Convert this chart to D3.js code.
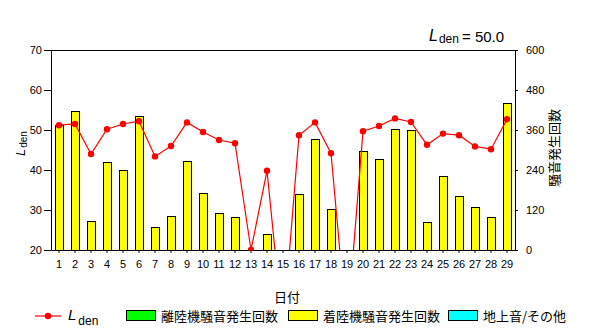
<!DOCTYPE html>
<html><head><meta charset="utf-8">
<script src="https://cdn.jsdelivr.net/npm/d3@7"></script>
<style>
body{margin:0;background:#fff;}
svg{display:block;}
text{font-family:"Liberation Sans",Arial,sans-serif;}
.jp{font-family:"Noto Sans CJK JP","Noto Sans",sans-serif;}
</style></head><body>
<svg id="c" width="600" height="329"></svg>
<script>
const days = d3.range(1, 30).map(String);
const landing = [375,417,86,264,240,402,69,101,267,170,110,99,0,47,0,167,332,123,0,296,272,362,359,83,221,161,128,98,440];
const takeoff = new Array(29).fill(0);
const other = new Array(29).fill(0);
const lden = [51.2,51.5,44.0,50.2,51.5,52.2,43.4,46.0,51.9,49.5,47.5,46.7,20.0,39.8,0,48.7,51.9,44.2,0,49.7,51.0,52.9,52.0,46.3,49.1,48.7,45.9,45.2,52.7];
const leftTicks = [20,30,40,50,60,70];
const rightTicks = [0,120,240,360,480,600];
const ldenAvg = "50.0";
const legendItems = [
  {label:"離陸機騒音発生回数", color:"#00ff00"},
  {label:"着陸機騒音発生回数", color:"#ffff00"},
  {label:"地上音/その他", color:"#00ffff"}
];

const L = 51, R = 515, T = 50, B = 250;
const svg = d3.select("#c");
const x = d3.scaleBand().domain(days).range([L, R]).paddingInner(0.5).paddingOuter(0.25);
const yL = d3.scaleLinear().domain([20,70]).range([B, T]);
const yR = d3.scaleLinear().domain([0,600]).range([B, T]);

svg.append("defs").append("clipPath").attr("id","clip")
  .append("rect").attr("x", L).attr("y", T - 6).attr("width", R - L).attr("height", B - T + 6.6);

// bars (stacked: takeoff, landing, other)
const stacks = days.map((d,i)=>({d, t:takeoff[i], l:landing[i], o:other[i]}));
const series = [
  {key:"t", color:"#00ff00"},
  {key:"l", color:"#ffff00"},
  {key:"o", color:"#00ffff"}
];
stacks.forEach(s=>{
  let base = 0;
  series.forEach(se=>{
    const v = s[se.key];
    if (v > 0) {
      svg.append("rect")
        .attr("x", Math.round(x(s.d)) + 0.5)
        .attr("y", Math.round(yR(base + v)) + 0.5)
        .attr("width", x.bandwidth())
        .attr("height", Math.round(yR(base)) - Math.round(yR(base + v)))
        .attr("fill", se.color).attr("stroke", "#000").attr("stroke-width", 1);
    }
    base += v;
  });
});

// axes
const axL = svg.append("g").attr("transform", `translate(${L},0)`)
  .call(d3.axisLeft(yL).tickValues(leftTicks).tickSize(7).tickSizeOuter(0).tickPadding(2));
const axR = svg.append("g").attr("transform", `translate(${R},0)`)
  .call(d3.axisRight(yR).tickValues(rightTicks).tickSize(3).tickSizeOuter(0).tickPadding(8));
const axB = svg.append("g").attr("transform", `translate(0,${B})`)
  .call(d3.axisBottom(x).tickSize(3).tickSizeOuter(0).tickPadding(7));
[axL, axR, axB].forEach(g=>{
  g.selectAll("text").attr("font-size", 11).attr("fill","#000").style("font-family","'Liberation Sans',Arial,sans-serif");
  g.selectAll("line,path").attr("stroke","#000");
});
// top border
svg.append("line").attr("x1", L).attr("x2", R + 0.5).attr("y1", T + 0.5).attr("y2", T + 0.5).attr("stroke", "#000");

// Lden line
const g = svg.append("g").attr("clip-path","url(#clip)");
const line = d3.line().x((d,i)=>x(days[i]) + x.bandwidth()/2).y(d=>yL(d));
g.append("path").datum(lden).attr("d", line).attr("fill","none").attr("stroke","#ff0000").attr("stroke-width",1.2);
g.selectAll("circle").data(lden).join("circle")
  .attr("cx",(d,i)=>x(days[i]) + x.bandwidth()/2).attr("cy", d=>yL(d)).attr("r", 3.2).attr("fill","#ff0000");

// title
const tt = svg.append("text").attr("x", 429).attr("y", 41).attr("fill","#000");
tt.append("tspan").text("L").attr("font-style","italic").attr("font-size",16);
tt.append("tspan").text("den").attr("font-size",12).attr("dx",1).attr("dy",2);
svg.append("text").attr("x", 462).attr("y", 42).attr("font-size",15).attr("fill","#000").text("= " + ldenAvg);

// left axis label
const yl = svg.append("text").attr("transform","translate(25,156) rotate(-90)").attr("fill","#000");
yl.append("tspan").text("L").attr("font-style","italic").attr("font-size",13);
yl.append("tspan").text("den").attr("font-size",10).attr("dx",1).attr("dy",2);

// right axis label
svg.append("text").attr("class","jp").attr("transform","translate(559,148) rotate(-90)")
  .attr("text-anchor","middle").attr("font-size",13).attr("fill","#000").text("騒音発生回数");

// x title
svg.append("text").attr("class","jp").attr("x", 287).attr("y", 302).attr("text-anchor","middle")
  .attr("font-size",13).attr("fill","#000").text("日付");

// legend
const ly = 316;
svg.append("line").attr("x1",35).attr("x2",61).attr("y1",ly).attr("y2",ly).attr("stroke","#ff0000").attr("stroke-width",1.2);
svg.append("circle").attr("cx",48).attr("cy",ly).attr("r",3.2).attr("fill","#ff0000");
const lt = svg.append("text").attr("x",68).attr("y",320).attr("fill","#000");
lt.append("tspan").text("L").attr("font-style","italic").attr("font-size",15);
lt.append("tspan").text("den").attr("font-size",12).attr("dx",2).attr("dy",5);

const boxX = [126, 288, 448];
legendItems.forEach((it,i)=>{
  svg.append("rect").attr("x", boxX[i] + 0.5).attr("y", 310.5).attr("width", 29).attr("height", 10)
    .attr("fill", it.color).attr("stroke","#000");
  svg.append("text").attr("class","jp").attr("x", boxX[i] + 35).attr("y", 320.5)
    .attr("font-size",13).attr("fill","#000").text(it.label);
});
</script></body></html>
